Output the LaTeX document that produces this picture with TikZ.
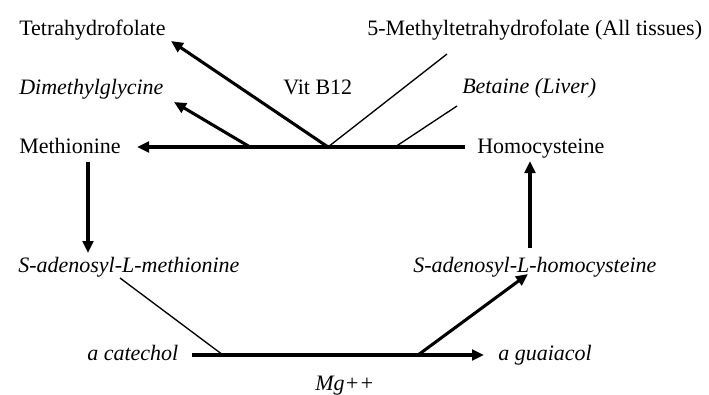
\documentclass[tikz,border=0pt]{standalone}
\usepackage{fontspec}
\setmainfont{Liberation Serif}
\usetikzlibrary{arrows.meta}
\begin{document}
\begin{tikzpicture}[x=0.75pt,y=-0.75pt,
  lbl/.style={anchor=base west,inner sep=0pt,font=\fontsize{16.5}{19}\selectfont},
  heavy/.style={line width=2.3pt},
  light/.style={line width=1pt},
  tip/.style={-{Triangle[length=9pt,width=8pt]}}]
\useasboundingbox (0,0) rectangle (709,394);
% labels
\node[lbl] (thf)  at (19,35)  {Tetrahydrofolate};
\node[lbl] (dmg)  at (19,94)  {\itshape Dimethylglycine};
\node[lbl] (met)  at (19,153) {Methionine};
\node[lbl] (b12)  at (283,94) {Vit B12};
\node[lbl] (mthf) at (367,35) {5-Methyltetrahydrofolate (All tissues)};
\node[lbl] (bet)  at (462,93) {\itshape Betaine (Liver)};
\node[lbl] (hcy)  at (477,153) {Homocysteine};
\node[lbl] (sam)  at (18,272) {\itshape S-adenosyl-L-methionine};
\node[lbl] (sah)  at (413,272) {\itshape S-adenosyl-L-homocysteine};
\node[lbl] (cat)  at (87,360) {\itshape a catechol};
\node[lbl] (gua)  at (498,360) {\itshape a guaiacol};
\node[lbl] (mg)   at (315,390) {\itshape Mg++};
% junctions and arrow ends
\coordinate (mtip) at (137,147);
\coordinate (hend) at (465,147);
\coordinate (jthf) at (328,147);
\coordinate (jdmg) at (250,147);
\coordinate (jbet) at (395,147);
\coordinate (tthf) at (171,41);
\coordinate (tdmg) at (174,102);
\coordinate (emthf) at (447,54);
\coordinate (ebet) at (457,106);
\coordinate (msrc) at (88,162);
\coordinate (stip) at (88,253);
\coordinate (hsrc) at (530,248);
\coordinate (htip) at (530,161);
\coordinate (cstart) at (192,355);
\coordinate (gtip) at (484,355);
\coordinate (jcat) at (223,355);
\coordinate (samend) at (120,278);
\coordinate (jsah) at (418,355);
\coordinate (sahtip) at (528,274);
% methionine synthase / betaine reaction
\draw[heavy,tip] (hend) -- (mtip);
\draw[heavy,tip] (jthf) -- (tthf);
\draw[heavy,tip] (jdmg) -- (tdmg);
\draw[light] (jthf) -- (emthf);
\draw[light] (jbet) -- (ebet);
% side arrows
\draw[heavy,tip] (msrc) -- (stip);
\draw[heavy,tip] (hsrc) -- (htip);
% COMT reaction
\draw[heavy,tip] (cstart) -- (gtip);
\draw[light] (samend) -- (jcat);
\draw[heavy,tip] (jsah) -- (sahtip);
\end{tikzpicture}
\end{document}
